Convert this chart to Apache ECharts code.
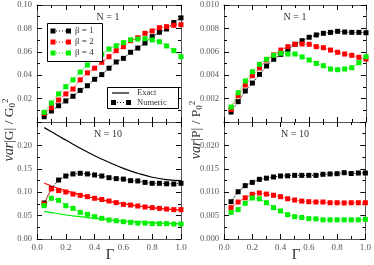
<!DOCTYPE html>
<html><head><meta charset="utf-8">
<script src="https://cdn.jsdelivr.net/npm/echarts@6/dist/echarts.min.js"></script>
<style>html,body{margin:0;padding:0;background:#fff}#c{width:374px;height:265px}</style>
</head><body><div id="c"></div>
<script>
// Γ values of numeric points
const gamma = [0.05,0.10,0.15,0.20,0.25,0.30,0.35,0.40,0.45,0.50,0.55,0.60,0.65,0.70,0.75,0.80,0.85,0.90,0.95,1.00];
// Top-left: var|G|/G0^2, N = 1
const g1Beta1 = [0.0045,0.0094,0.0139,0.0180,0.0220,0.0270,0.0310,0.0365,0.0405,0.0460,0.0513,0.0544,0.0596,0.0632,0.0675,0.0730,0.0767,0.0795,0.0850,0.0890];
const g1Beta2 = [0.0074,0.0122,0.0188,0.0240,0.0282,0.0360,0.0420,0.0460,0.0510,0.0558,0.0610,0.0644,0.0695,0.0720,0.0758,0.0778,0.0806,0.0815,0.0826,0.0832];
const g1Beta4 = [0.0083,0.0162,0.0240,0.0302,0.0360,0.0427,0.0487,0.0536,0.0579,0.0624,0.0652,0.0678,0.0703,0.0709,0.0712,0.0701,0.0686,0.0650,0.0610,0.0558];
// Top-right: var|P|/P0^2, N = 1
const p1Beta1 = [0.00085,0.00174,0.00265,0.00333,0.00407,0.00479,0.00536,0.00578,0.00621,0.00664,0.00695,0.00724,0.00744,0.00758,0.00766,0.00775,0.00769,0.00766,0.00766,0.00763];
const p1Beta2 = [0.00108,0.00225,0.00316,0.00396,0.00462,0.00530,0.00573,0.00615,0.00644,0.00664,0.00667,0.00664,0.00644,0.00635,0.00615,0.00596,0.00581,0.00570,0.00553,0.00538];
const p1Beta4 = [0.00128,0.00250,0.00350,0.00430,0.00493,0.00536,0.00570,0.00587,0.00581,0.00581,0.00556,0.00530,0.00501,0.00481,0.00453,0.00447,0.00453,0.00464,0.00507,0.00558];
// Bottom-left: var|G|/G0^2, N = 10 (numeric)
const g10Beta1 = [0.0770,0.1080,0.1260,0.1346,0.1390,0.1404,0.1390,0.1368,0.1346,0.1310,0.1290,0.1280,0.1247,0.1240,0.1210,0.1190,0.1190,0.1180,0.1175,0.1190];
const g10Beta2 = [0.0748,0.1070,0.1035,0.1005,0.0960,0.0933,0.0905,0.0870,0.0845,0.0812,0.0777,0.0740,0.0726,0.0705,0.0684,0.0670,0.0655,0.0640,0.0627,0.0627];
const g10Beta4 = [0.0712,0.0870,0.0826,0.0712,0.0655,0.0570,0.0527,0.0477,0.0442,0.0406,0.0390,0.0370,0.0356,0.0340,0.0340,0.0328,0.0328,0.0328,0.0320,0.0320];
// Bottom-left: exact curves
const exactGamma = [0.05,0.10,0.15,0.20,0.30,0.40,0.50,0.60,0.70,0.80,0.90,1.00];
const g10Exact1 = [0.238,0.229,0.220,0.2115,0.194,0.178,0.164,0.151,0.1404,0.132,0.1268,0.1246];
const g10Exact2 = [0.119,0.1133,0.108,0.1033,0.0947,0.087,0.0803,0.0755,0.0705,0.067,0.064,0.062];
const g10Exact4 = [0.059,0.0565,0.054,0.0513,0.0477,0.0442,0.0413,0.0385,0.037,0.035,0.0335,0.0328];
// Bottom-right: var|P|/P0^2, N = 10
const p10Beta1 = [0.00797,0.0101,0.0114,0.0121,0.01275,0.0130,0.01325,0.01346,0.0135,0.0136,0.0136,0.0136,0.0136,0.01382,0.0139,0.01396,0.01417,0.0140,0.0141,0.0141];
const p10Beta2 = [0.0067,0.0079,0.0088,0.00955,0.00983,0.0096,0.00934,0.00904,0.0086,0.00833,0.0081,0.00797,0.0079,0.0079,0.00775,0.00775,0.0077,0.00775,0.00775,0.00775];
const p10Beta4 = [0.0057,0.00627,0.00763,0.00876,0.0086,0.00776,0.0067,0.0060,0.0052,0.00477,0.0046,0.00435,0.0043,0.0041,0.0041,0.0041,0.0041,0.0041,0.0041,0.0042];

const betaNames = ['β = 1','β = 2','β = 4'];
const colors = ['#000000','#ff0000','#00ee00'];
const panelTitles = ['N = 1','N = 1','N = 10','N = 10'];

const FONT = 'Liberation Serif';
const grids = [
  {left:37, top:5, width:144, height:117},
  {left:224, top:5, width:142, height:117},
  {left:37, top:122, width:144, height:117},
  {left:224, top:122, width:142, height:117}
];
const yRanges = [[0,0.10,0.02,2,'min'],[0,0.010,0.002,3,'min'],[0,0.25,0.05,2,'max'],[0,0.025,0.005,3,'max']];

const xAxis = [], yAxis = [];
grids.forEach((g,i)=>{
  const showX = i>=2;
  const base = {type:'value', gridIndex:i, min:0, max:1, interval:0.2,
    axisLine:{show:true,onZero:false,lineStyle:{color:'#555',width:1}},
    axisTick:{show:true,inside:true,length:5,lineStyle:{color:'#000',width:1}},
    minorTick:{show:true,splitNumber:2,length:3,lineStyle:{color:'#000',width:1}},
    splitLine:{show:false}};
  xAxis.push(Object.assign({}, base, {position:'bottom',
    axisLabel:{show:showX,margin:4,fontFamily:FONT,fontSize:9,color:'#555',formatter:v=>v.toFixed(1)}}));
  xAxis.push(Object.assign({}, base, {position:'top', axisLabel:{show:false}}));
  const r = yRanges[i];
  const ybase = {type:'value', gridIndex:i, min:r[0], max:r[1], interval:r[2],
    axisLine:{show:true,onZero:false,lineStyle:{color:'#555',width:1}},
    axisTick:{show:true,inside:true,length:5,lineStyle:{color:'#000',width:1}},
    minorTick:{show:true,splitNumber:2,length:3,lineStyle:{color:'#000',width:1}},
    splitLine:{show:false}};
  yAxis.push(Object.assign({}, ybase, {position:'left',
    axisLabel:{show:true,margin:5,fontFamily:FONT,fontSize:8.5,color:'#555',
      showMinLabel: r[4]!=='min', showMaxLabel: r[4]!=='max',
      formatter:v=>v.toFixed(r[3])}}));
  yAxis.push(Object.assign({}, ybase, {position:'right', axisLabel:{show:false}}));
});

const series = [];
function numeric(gi, arr, ci){
  series.push({type:'line', xAxisIndex:gi*2, yAxisIndex:gi*2,
    data: gamma.map((x,k)=>[x,arr[k]]),
    symbol:'rect', symbolSize:5, showSymbol:true,
    itemStyle:{color:colors[ci]},
    lineStyle:{color:colors[ci], width:1, type:'dotted'}, animation:false, z:3});
}
function exact(gi, arr, ci){
  series.push({type:'line', xAxisIndex:gi*2, yAxisIndex:gi*2,
    data: exactGamma.map((x,k)=>[x,arr[k]]), smooth:true,
    symbol:'none', lineStyle:{color:colors[ci], width:1.2, type:'solid'}, animation:false, z:2});
}
exact(2,g10Exact1,0); exact(2,g10Exact2,1); exact(2,g10Exact4,2);
[[g1Beta1,g1Beta2,g1Beta4],[p1Beta1,p1Beta2,p1Beta4],[g10Beta1,g10Beta2,g10Beta4],[p10Beta1,p10Beta2,p10Beta4]]
  .forEach((set,gi)=>{ set.forEach((arr,ci)=>numeric(gi,arr,ci)); });

const graphic = [];
const titlePos = [[108,17],[295,17],[108,134],[295,134]];
panelTitles.forEach((t,i)=>graphic.push({type:'text',x:titlePos[i][0],y:titlePos[i][1],
  style:{text:t,fontFamily:FONT,fontSize:10,fill:'#333',textAlign:'center',textVerticalAlign:'middle'}}));
[[110,255],[296,255]].forEach(p=>graphic.push({type:'text',x:p[0],y:p[1],
  style:{text:'Γ',fontFamily:FONT,fontSize:15,fill:'#333',textAlign:'center',textVerticalAlign:'middle'}}));
function yTitle(x, letter){
  graphic.push({type:'text', x:x, y:130, rotation:Math.PI/2,
    style:{text:'{i|var}{n||'+letter+'| / '+letter+'}{s|0}{p|2}',
      textAlign:'center', textVerticalAlign:'middle',
      rich:{i:{fontFamily:FONT,fontStyle:'italic',fontSize:14,fill:'#333',lineHeight:16,verticalAlign:'middle'},
            n:{fontFamily:FONT,fontSize:13.5,fill:'#333',lineHeight:16,verticalAlign:'middle'},
            s:{fontFamily:FONT,fontSize:9,fill:'#333',lineHeight:16,verticalAlign:'bottom'},
            p:{fontFamily:FONT,fontSize:9,fill:'#333',lineHeight:16,verticalAlign:'top'}}}});
}
yTitle(9,'G'); yTitle(196,'P');
// legend 1 (beta)
graphic.push({type:'rect',shape:{x:47.5,y:23.5,width:55,height:38},style:{fill:'#fff',stroke:'#000',lineWidth:1},z:10});
betaNames.forEach((nm,k)=>{
  const y = 31 + k*11;
  graphic.push({type:'line',shape:{x1:53,y1:y,x2:68,y2:y},style:{stroke:colors[k],lineDash:[1,2],lineWidth:1},z:11});
  graphic.push({type:'rect',shape:{x:50.5,y:y-2.5,width:5,height:5},style:{fill:colors[k]},z:11});
  graphic.push({type:'rect',shape:{x:66,y:y-2.5,width:5,height:5},style:{fill:colors[k]},z:11});
  graphic.push({type:'text',x:75,y:y,style:{text:nm,fontFamily:FONT,fontSize:9,fill:'#333',textVerticalAlign:'middle'},z:11});
});
// legend 2 (exact / numeric)
graphic.push({type:'rect',shape:{x:107.5,y:87.5,width:71,height:21},style:{fill:'#fff',stroke:'#000',lineWidth:1},z:10});
graphic.push({type:'line',shape:{x1:112,y1:93,x2:129,y2:93},style:{stroke:'#000',lineWidth:1.2},z:11});
graphic.push({type:'text',x:137,y:93,style:{text:'Exact',fontFamily:FONT,fontSize:8.5,fill:'#333',textVerticalAlign:'middle'},z:11});
graphic.push({type:'line',shape:{x1:114,y1:102.5,x2:128,y2:102.5},style:{stroke:'#000',lineDash:[1,2],lineWidth:1},z:11});
graphic.push({type:'rect',shape:{x:111,y:100,width:5,height:5},style:{fill:'#000'},z:11});
graphic.push({type:'rect',shape:{x:126,y:100,width:5,height:5},style:{fill:'#000'},z:11});
graphic.push({type:'text',x:137,y:102.5,style:{text:'Numeric',fontFamily:FONT,fontSize:8.5,fill:'#333',textVerticalAlign:'middle'},z:11});

const chart = echarts.init(document.getElementById('c'), null, {renderer:'canvas'});
chart.setOption({animation:false, grid:grids, xAxis:xAxis, yAxis:yAxis, series:series, graphic:graphic});
</script></body></html>
